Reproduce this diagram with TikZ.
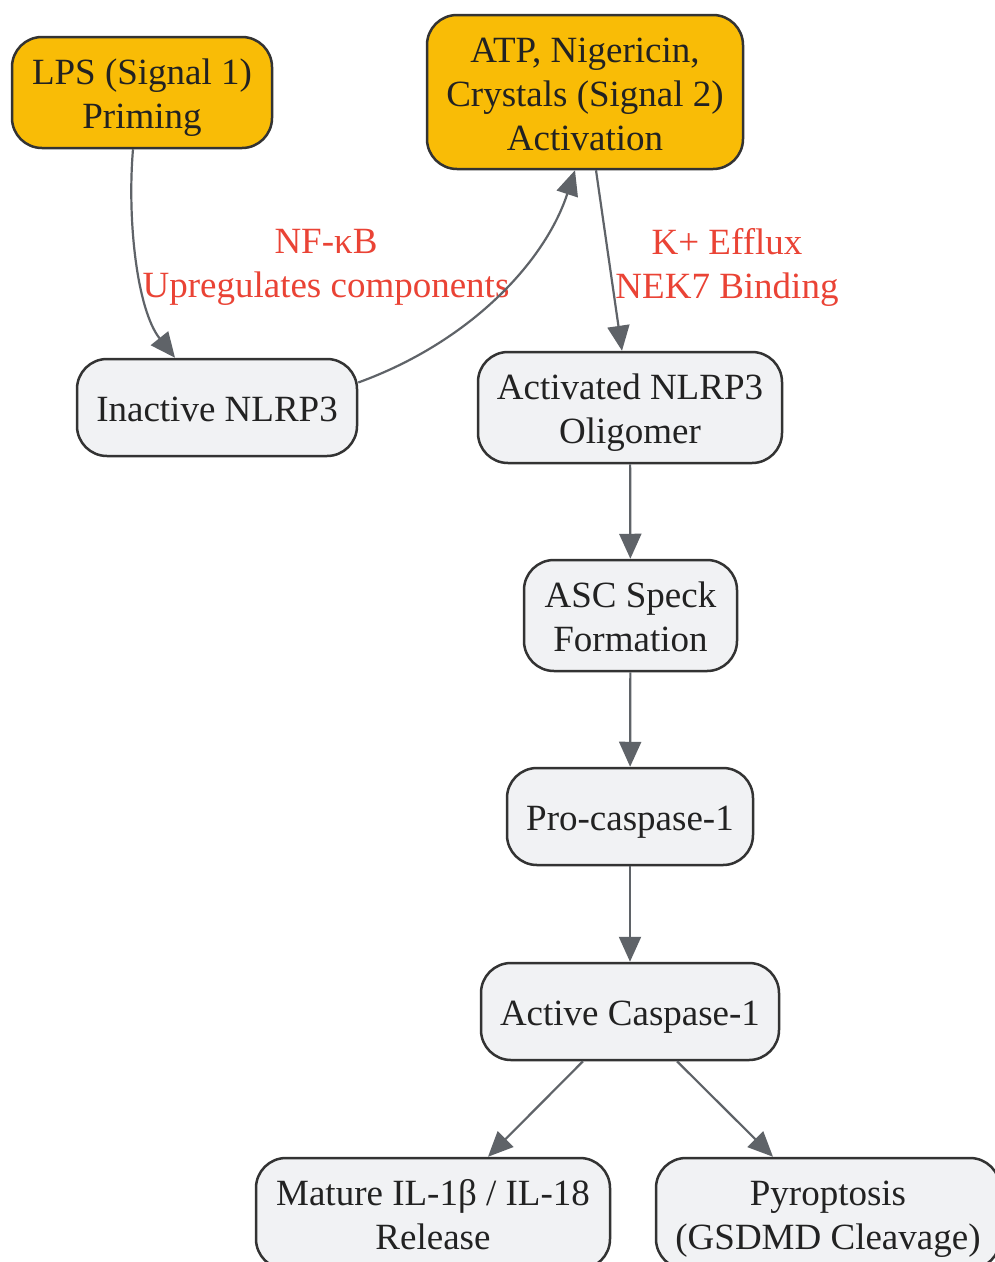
\documentclass[tikz,border=0pt]{standalone}
\usepackage{fontspec}
\setmainfont{Liberation Serif}
\usetikzlibrary{arrows.meta}
\definecolor{yel}{RGB}{249,188,6}
\definecolor{gry}{RGB}{241,242,244}
\definecolor{bord}{RGB}{51,51,51}
\definecolor{txt}{RGB}{34,34,34}
\definecolor{arr}{RGB}{95,99,104}
\definecolor{lred}{RGB}{234,67,53}
\newcommand\boxtxt[1]{\raisebox{0pt}[\dimexpr\height+11pt\relax][\depth]{\begin{tabular}{@{}c@{}}#1\end{tabular}}}
\begin{document}
\begin{tikzpicture}[x=1pt,y=-1pt,
  box/.style={draw=bord, line width=2.5pt, rounded corners=30pt, inner sep=0pt, text=txt, font=\fontsize{37}{44}\selectfont},
  sig/.style={box, fill=yel},
  proc/.style={box, fill=gry},
  conn/.style={draw=arr, line width=2.2pt, -{Triangle[length=25pt,width=22pt]}},
  lbl/.style={text=lred, align=center, inner sep=0pt, font=\fontsize{37}{44}\selectfont}]
\clip (0,0) rectangle (995,1262);
\fill[white] (0,0) rectangle (995,1262);
\node[sig, minimum width=260pt, minimum height=111pt] (lps) at (142,92.5) {\boxtxt{LPS (Signal 1)\\Priming}};
\node[sig, minimum width=316pt, minimum height=154pt] (atp) at (585,92) {\boxtxt{ATP, Nigericin,\\Crystals (Signal 2)\\Activation}};
\node[proc, minimum width=280pt, minimum height=97pt] (inact) at (217,407.5) {\boxtxt{Inactive NLRP3}};
\node[proc, minimum width=304pt, minimum height=111pt] (olig) at (630,407.5) {\boxtxt{Activated NLRP3\\Oligomer}};
\node[proc, minimum width=213pt, minimum height=111pt] (asc) at (630.5,615.5) {\boxtxt{ASC Speck\\Formation}};
\node[proc, minimum width=246pt, minimum height=97pt] (pro) at (630,816.5) {\boxtxt{Pro-caspase-1}};
\node[proc, minimum width=298pt, minimum height=97pt] (act) at (630,1011.5) {\boxtxt{Active Caspase-1}};
\node[proc, minimum width=354pt, minimum height=111pt] (mat) at (433,1213.5) {\boxtxt{Mature IL-1β / IL-18\\Release}};
\node[proc, minimum width=344pt, minimum height=111pt] (pyr) at (828,1213.5) {\boxtxt{Pyroptosis\\(GSDMD Cleavage)}};
\node[lbl] (l1) at (326,267) {NF-κB\\Upregulates components};
\node[lbl] (l2) at (727,267) {K+ Efflux\\NEK7 Binding};
\draw[conn] ([xshift=-9pt]lps.south) .. controls (127,220) and (137,310) .. ([xshift=-42pt]inact.north);
\draw[conn] ([yshift=25pt]inact.east) .. controls (470,342) and (545,262) .. ([xshift=-10pt]atp.south);
\draw[conn] ([xshift=11pt]atp.south) -- ([xshift=-8pt]olig.north);
\draw[conn] (olig) -- (asc);
\draw[conn] (asc) -- (pro);
\draw[conn] (pro) -- (act);
\draw[conn] ([xshift=-47pt]act.south) -- ([xshift=55pt]mat.north);
\draw[conn] ([xshift=47pt]act.south) -- ([xshift=-55pt]pyr.north);
\end{tikzpicture}
\end{document}
